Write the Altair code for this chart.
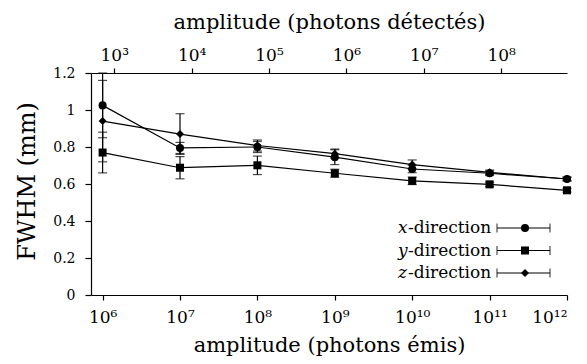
import altair as alt
import pandas as pd

# ---- data ----
emitted = [1e6, 1e7, 1e8, 1e9, 1e10, 1e11, 1e12]
fwhm_x = [1.025, 0.795, 0.800, 0.745, 0.681, 0.658, 0.627]
err_x = [0.175, 0.030, 0.030, 0.040, 0.020, 0.012, 0.010]
fwhm_y = [0.770, 0.688, 0.701, 0.658, 0.617, 0.598, 0.566]
err_y = [0.110, 0.060, 0.050, 0.022, 0.020, 0.012, 0.010]
fwhm_z = [0.940, 0.870, 0.808, 0.764, 0.705, 0.663, 0.627]
err_z = [0.220, 0.110, 0.030, 0.025, 0.025, 0.012, 0.010]

directions = ["x", "y", "z"]
legend_vars = ["x", "y", "z"]
legend_rest = ["-direction", "-direction", "-direction"]
shapes = ["circle", "square", "diamond"]
shape_sizes = [65, 64, 110]

bottom_ticks = [1e6, 1e7, 1e8, 1e9, 1e10, 1e11, 1e12]
bottom_labels = ["10⁶", "10⁷", "10⁸", "10⁹", "10¹⁰", "10¹¹", "10¹²"]
top_ticks = [1e3, 1e4, 1e5, 1e6, 1e7, 1e8]
top_labels = ["10³", "10⁴", "10⁵", "10⁶", "10⁷", "10⁸"]
y_ticks = [0, 0.2, 0.4, 0.6, 0.8, 1.0, 1.2]

bottom_domain = [10 ** 5.85, 1e12]
top_domain = [10 ** 2.7, 10 ** 8.85]

rows = []
for d, vals, errs in zip(directions, [fwhm_x, fwhm_y, fwhm_z], [err_x, err_y, err_z]):
    for e, v, er in zip(emitted, vals, errs):
        rows.append({"direction": d, "emitted": e, "fwhm": v, "lo": v - er, "hi": v + er})
df = pd.DataFrame(rows)
leg_df = pd.DataFrame({"direction": directions, "var": legend_vars, "rest": legend_rest})
top_df = pd.DataFrame({"detected": top_ticks})

FONT = "DejaVu Serif"
common_axis = dict(
    labelFont=FONT, titleFont=FONT, labelColor="black", titleColor="black",
    domainColor="black", tickColor="black", domainWidth=1.2, tickWidth=1.2,
    titleFontWeight="normal", labelFontWeight="normal", labelOverlap=False, grid=False,
)

xscale = alt.Scale(type="log", domain=bottom_domain, nice=False, zero=False)
yscale = alt.Scale(domain=[0, 1.2], nice=False, zero=False)
shape_enc = alt.Shape("direction:N", scale=alt.Scale(domain=directions, range=shapes), legend=None)
size_enc = alt.Size("direction:N", scale=alt.Scale(domain=directions, range=shape_sizes), legend=None)

x_axis = alt.Axis(
    values=bottom_ticks,
    labelExpr="[" + ",".join(f"'{l}'" for l in bottom_labels) + "][round(log(datum.value)/LN10) - 6]",
    title="amplitude (photons émis)",
    orient="bottom",
    tickSize=5,
    labelPadding=22,
    labelBaseline="alphabetic",
    labelFontSize=17,
    titleFontSize=21,
    titleY=56,
    titleBaseline="alphabetic",
    **common_axis,
)
y_axis = alt.Axis(
    values=y_ticks,
    format="~g",
    title="FWHM (mm)",
    tickSize=6,
    labelPadding=10,
    labelFontSize=14,
    titleFontSize=24,
    titleX=-57,
    titleY=108,
    titleBaseline="alphabetic",
    titleAlign="center",
    titleAngle=270,
    **common_axis,
)

X = alt.X("emitted:Q", scale=xscale, axis=x_axis)
Y = alt.Y("fwhm:Q", scale=yscale, axis=y_axis)
YLO = alt.Y("lo:Q", scale=yscale, axis=y_axis)
YHI = alt.Y("hi:Q", scale=yscale, axis=y_axis)

base = alt.Chart(df)
lines = base.mark_line(color="black", strokeWidth=1.2).encode(x=X, y=Y, detail="direction:N")
bars = base.mark_rule(color="black", strokeWidth=1.2).encode(x=X, y=YLO, y2="hi:Q")
cap_lo = base.mark_tick(color="black", orient="horizontal", size=9, thickness=1.2).encode(x=X, y=YLO)
cap_hi = base.mark_tick(color="black", orient="horizontal", size=9, thickness=1.2).encode(x=X, y=YHI)
points = base.mark_point(filled=True, color="black", opacity=1).encode(x=X, y=Y, shape=shape_enc, size=size_enc)

main = alt.layer(lines, bars, cap_lo, cap_hi, points)

top = alt.Chart(top_df).mark_point(opacity=0).encode(
    x=alt.X(
        "detected:Q",
        scale=alt.Scale(type="log", domain=top_domain, nice=False, zero=False),
        axis=alt.Axis(
            orient="top",
            values=top_ticks,
            labelExpr="[" + ",".join(f"'{l}'" for l in top_labels) + "][round(log(datum.value)/LN10) - 3]",
            title="amplitude (photons détectés)",
            tickSize=5,
            labelPadding=8,
            labelBaseline="alphabetic",
            labelFontSize=17,
            titleFontSize=21,
            titleY=-45,
            titleBaseline="alphabetic",
            **common_axis,
        ),
    )
)

LY = alt.Y("direction:N", scale=alt.Scale(type="point", domain=directions, range=[155, 200], padding=0), axis=None)
lbase = alt.Chart(leg_df)
leg_var = lbase.mark_text(align="left", baseline="middle", font=FONT, fontStyle="italic", fontSize=17,
                          color="black").encode(x=alt.value(307), y=LY, text="var:N")
leg_text = lbase.mark_text(align="left", baseline="middle", font=FONT, fontSize=17, color="black").encode(
    x=alt.value(317), y=LY, text="rest:N")
leg_rule = lbase.mark_rule(color="black", strokeWidth=1.2).encode(x=alt.value(406), x2=alt.value(459), y=LY)
leg_cap1 = lbase.mark_tick(color="black", orient="vertical", size=9, thickness=1.2).encode(x=alt.value(406), y=LY)
leg_cap2 = lbase.mark_tick(color="black", orient="vertical", size=9, thickness=1.2).encode(x=alt.value(459), y=LY)
leg_pt = lbase.mark_point(filled=True, color="black", opacity=1).encode(
    x=alt.value(434), y=LY, shape=shape_enc, size=size_enc)
legend = alt.layer(leg_var, leg_text, leg_rule, leg_cap1, leg_cap2, leg_pt)

chart = (
    alt.layer(main, top, legend)
    .resolve_scale(x="independent", y="independent")
    .properties(
        width=476,
        height=222,
        autosize=alt.AutoSizeParams(type="none"),
        padding={"left": 83, "top": 65, "right": 12, "bottom": 61},
        background="white",
    )
    .configure_view(stroke=None)
)

chart.save("out.html", embed_options={"renderer": "svg", "actions": False})
